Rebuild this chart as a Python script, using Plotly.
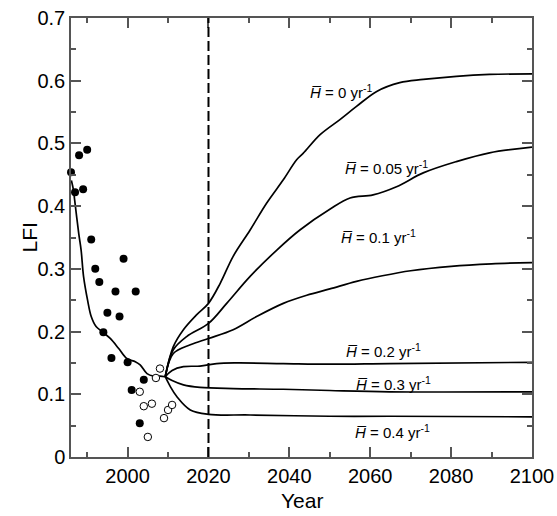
import plotly.graph_objects as go

# Observed data (filled circles)
obs_years = [1986, 1987, 1988, 1989, 1990, 1991, 1992, 1993, 1994, 1995,
             1996, 1997, 1998, 1999, 2000, 2001, 2002, 2003, 2004]
obs_lfi = [0.454, 0.422, 0.481, 0.427, 0.490, 0.347, 0.300, 0.279, 0.199, 0.230,
           0.158, 0.264, 0.224, 0.316, 0.151, 0.107, 0.264, 0.054, 0.123]

# Recent data (open circles)
new_years = [2003, 2004, 2005, 2006, 2007, 2008, 2009, 2010, 2011]
new_lfi = [0.104, 0.081, 0.032, 0.085, 0.126, 0.141, 0.062, 0.075, 0.083]

# Model hindcast
fit_years = [1986.1, 1986.6, 1986.9, 1987.9, 1988.5, 1989.1, 1990.1, 1991.0, 1992.2,
             1993.7, 1995.7, 1997.8, 1999.8, 2001.9, 2003.1, 2004.8, 2006.4, 2008.0, 2009.3]
fit_lfi = [0.441, 0.426, 0.410, 0.357, 0.330, 0.288, 0.250, 0.224, 0.208,
           0.200, 0.189, 0.173, 0.157, 0.152, 0.147, 0.133, 0.129, 0.129, 0.128]

# Projections for each harvest rate
proj = {
    "0": ([2009.3, 2011.3, 2013.8, 2017.1, 2020.0, 2022.9, 2026.1, 2030.3, 2034.4, 2038.5,
           2041.8, 2043.4, 2047.6, 2052.5, 2056.6, 2061.6, 2067.3, 2073.1, 2081.3, 2089.5, 2100],
          [0.128, 0.176, 0.203, 0.227, 0.245, 0.277, 0.320, 0.362, 0.405, 0.442,
           0.474, 0.484, 0.514, 0.538, 0.559, 0.583, 0.597, 0.602, 0.607, 0.610, 0.611]),
    "0.05": ([2009.3, 2011.3, 2014.6, 2020.0, 2024.5, 2030.3, 2036.9, 2042.6, 2050.0,
              2055.0, 2060.7, 2066.5, 2073.1, 2081.3, 2089.5, 2100],
             [0.128, 0.171, 0.192, 0.213, 0.245, 0.288, 0.330, 0.362, 0.395,
              0.413, 0.418, 0.431, 0.453, 0.471, 0.485, 0.494]),
    "0.1": ([2009.3, 2011.3, 2015.5, 2020.0, 2026.1, 2031.9, 2038.5, 2044.3, 2050.0,
             2056.6, 2063.0, 2070.0, 2080.0, 2090.0, 2100],
            [0.128, 0.165, 0.179, 0.189, 0.203, 0.224, 0.245, 0.258, 0.268,
             0.280, 0.289, 0.297, 0.304, 0.308, 0.310]),
    "0.2": ([2009.3, 2011.0, 2013.8, 2017.9, 2022.0, 2027.0, 2038.5, 2050.0, 2064.8, 2100],
            [0.128, 0.138, 0.144, 0.145, 0.149, 0.150, 0.149, 0.148, 0.149, 0.151]),
    "0.3": ([2009.3, 2011.0, 2013.8, 2017.9, 2026.1, 2038.5, 2050.0, 2064.8, 2100],
            [0.128, 0.122, 0.115, 0.111, 0.109, 0.108, 0.106, 0.104, 0.104]),
    "0.4": ([2009.3, 2010.5, 2012.2, 2015.5, 2020.0, 2030.3, 2050.0, 2064.8, 2100],
            [0.128, 0.113, 0.096, 0.075, 0.068, 0.067, 0.065, 0.065, 0.064]),
}

label_rates = ["0", "0.05", "0.1", "0.2", "0.3", "0.4"]
label_x = [2052.7, 2064.1, 2062.1, 2063.4, 2065.8, 2065.5]
label_y = [0.583, 0.461, 0.351, 0.170, 0.117, 0.040]

fig = go.Figure()

fig.add_trace(go.Scatter(x=fit_years, y=fit_lfi, mode="lines", line_shape="spline",
                         line=dict(color="black", width=1.7), showlegend=False))
for rate in label_rates:
    xs, ys = proj[rate]
    fig.add_trace(go.Scatter(x=xs, y=ys, mode="lines", line_shape="spline",
                             line=dict(color="black", width=1.7), showlegend=False))

fig.add_trace(go.Scatter(x=obs_years, y=obs_lfi, mode="markers", cliponaxis=False,
                         marker=dict(color="black", size=8), showlegend=False))
fig.add_trace(go.Scatter(x=new_years, y=new_lfi, mode="markers", cliponaxis=False,
                         marker=dict(color="white", size=7.5, line=dict(color="black", width=1)),
                         showlegend=False))

fig.add_vline(x=2020, line=dict(color="black", width=2, dash="10px,4px"))

for r, lx, ly in zip(label_rates, label_x, label_y):
    fig.add_annotation(x=lx, y=ly, text=f"<i>H\u0305</i> = {r} yr<sup>-1</sup>",
                       showarrow=False, font=dict(size=15, color="black"))

# axis titles as paper annotations for exact placement
fig.add_annotation(xref="paper", yref="paper", x=0.5, y=-0.1, text="Year",
                   showarrow=False, font=dict(size=21, color="black"),
                   xanchor="center", yanchor="middle")
fig.add_annotation(xref="paper", yref="paper", x=-0.089, y=0.5, text="LFI",
                   showarrow=False, font=dict(size=21, color="black"), textangle=-90,
                   xanchor="center", yanchor="middle")

axis_common = dict(
    showline=True, linecolor="#555555", linewidth=1.5, mirror="ticks",
    ticks="inside", ticklen=10, tickwidth=1.5, tickcolor="#555555",
    showgrid=False, zeroline=False, automargin=False,
    tickfont=dict(size=20, color="black"),
)

fig.update_xaxes(range=[1986, 2100], tickvals=[2000, 2020, 2040, 2060, 2080, 2100],
                 minor=dict(dtick=10, tick0=1990, ticks="inside", ticklen=5, tickwidth=1.5,
                            tickcolor="#555555"),
                 **axis_common)
fig.update_yaxes(range=[0, 0.7], tickvals=[0, 0.1, 0.2, 0.3, 0.4, 0.5, 0.6, 0.7],
                 ticktext=["0", "0.1", "0.2", "0.3", "0.4", "0.5", "0.6", "0.7"],
                 minor=dict(dtick=0.05, tick0=0, ticks="inside", ticklen=5, tickwidth=1.5,
                            tickcolor="#555555"),
                 **axis_common)

fig.update_layout(
    width=557, height=516,
    margin=dict(l=71, r=25, t=18, b=59),
    plot_bgcolor="white", paper_bgcolor="white",
    font=dict(family="Liberation Sans, Arial, sans-serif", color="black"),
)

fig.write_html("out.html", config={"displayModeBar": False},
               post_script="document.body.style.margin='0px';document.body.style.overflow='hidden';")
